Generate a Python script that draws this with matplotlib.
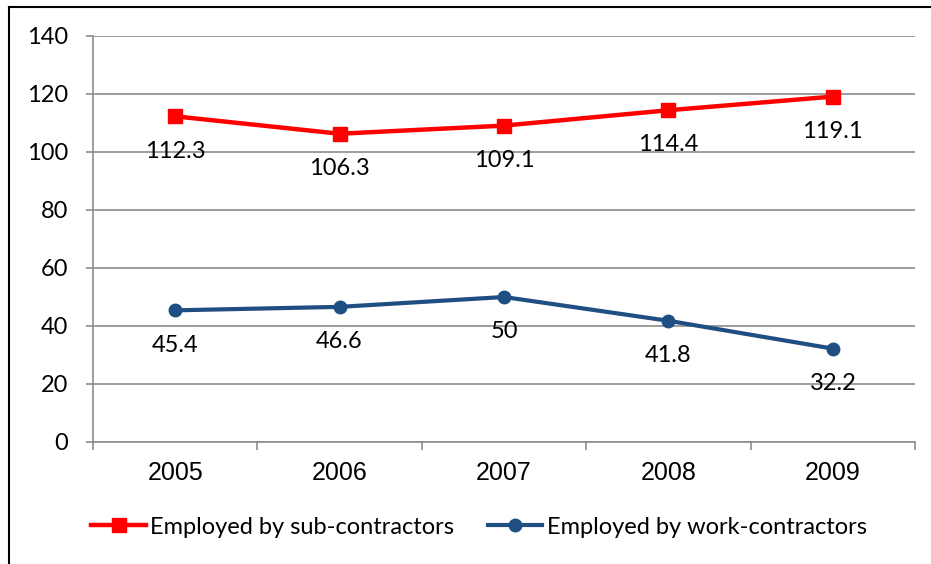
import matplotlib.pyplot as plt
from matplotlib.lines import Line2D

years = ["2005", "2006", "2007", "2008", "2009"]
sub_contractors = [112.3, 106.3, 109.1, 114.4, 119.1]
work_contractors = [45.4, 46.6, 50, 41.8, 32.2]
sub_labels = ["112.3", "106.3", "109.1", "114.4", "119.1"]
work_labels = ["45.4", "46.6", "50", "41.8", "32.2"]

RED = "#FF0000"
BLUE = "#1F4E82"
GRID = "#8C8C8C"

fig = plt.figure(figsize=(9.31, 5.64), dpi=100)
ax = fig.add_axes([93 / 931, 1 - 442 / 564, 822 / 931, 406 / 564])

x = list(range(len(years)))
ax.plot(x, sub_contractors, color=RED, lw=3.2, marker="s", ms=10.5,
        label="Employed by sub-contractors", zorder=3)
ax.plot(x, work_contractors, color=BLUE, lw=3, marker="o", ms=9,
        label="Employed by work-contractors", zorder=3)

for xi, v, t in zip(x, sub_contractors, sub_labels):
    ax.annotate(t, (xi, v), xytext=(0, -25), textcoords="offset points",
                ha="center", va="center", fontsize=17, family="Lato")
for xi, v, t in zip(x, work_contractors, work_labels):
    ax.annotate(t, (xi, v), xytext=(0, -25), textcoords="offset points",
                ha="center", va="center", fontsize=17, family="Lato")

ax.set_xlim(-0.5, 4.5)
ax.set_ylim(0, 140)
ax.set_yticks(range(0, 141, 20))
ax.set_xticks(x)
ax.set_xticklabels(years, fontsize=18, family="Liberation Sans")
ax.set_xticks([i - 0.5 for i in range(6)], minor=True)
ax.tick_params(axis="x", which="major", length=0, pad=14)
ax.tick_params(axis="x", which="minor", length=6, width=1.2, color=GRID)
ax.tick_params(axis="y", length=5, width=1.2, color=GRID, pad=13)
for lab in ax.get_yticklabels():
    lab.set_fontsize(17)
    lab.set_family("Lato")

ax.yaxis.grid(True, color=GRID, lw=1.2)
ax.set_axisbelow(True)
for s in ["top", "right"]:
    ax.spines[s].set_visible(False)
for s in ["left", "bottom"]:
    ax.spines[s].set_color(GRID)
    ax.spines[s].set_linewidth(1.2)

fig.legend(loc="center", bbox_to_anchor=(479 / 931, 1 - 527 / 564), ncol=2,
           frameon=False, prop={"family": "Lato", "size": 17},
           handlelength=2.3, handletextpad=0.2, columnspacing=1.4)

# outer chart border (left and top edges visible in the reference)
fig.add_artist(Line2D([9 / 931, 9 / 931], [0, 1 - 7 / 564], color="black", lw=1.5,
                      transform=fig.transFigure))
fig.add_artist(Line2D([9 / 931, 1], [1 - 7 / 564, 1 - 7 / 564], color="black", lw=1.5,
                      transform=fig.transFigure))

fig.savefig("out.png", dpi=100)
